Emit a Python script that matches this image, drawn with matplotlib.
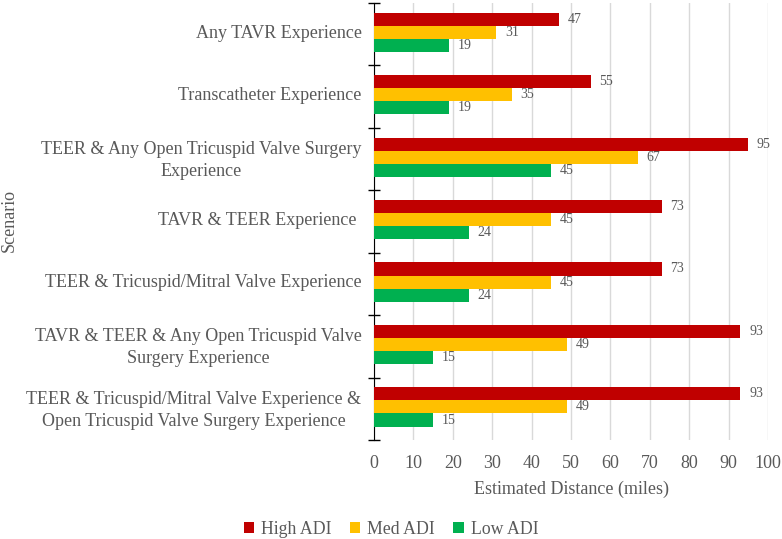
import matplotlib.pyplot as plt
import numpy as np

plt.rcParams['font.family'] = ['Liberation Serif', 'DejaVu Serif']

scenarios = [
    "Any TAVR Experience",
    "Transcatheter Experience",
    "TEER & Any Open Tricuspid Valve Surgery\nExperience",
    "TAVR & TEER Experience ",
    "TEER & Tricuspid/Mitral Valve Experience",
    "TAVR & TEER & Any Open Tricuspid Valve\nSurgery Experience",
    "TEER & Tricuspid/Mitral Valve Experience &\nOpen Tricuspid Valve Surgery Experience",
]
high_adi = [47, 55, 95, 73, 73, 93, 93]
med_adi = [31, 35, 67, 45, 45, 49, 49]
low_adi = [19, 19, 45, 24, 24, 15, 15]

series = [("High ADI", high_adi, "#C00000"),
          ("Med ADI", med_adi, "#FFC000"),
          ("Low ADI", low_adi, "#00B050")]

gray = "#595959"

fig = plt.figure(figsize=(7.82, 5.39), dpi=100)
ax = fig.add_axes([374 / 782, 1 - 440 / 539, (768 - 374) / 782, 437 / 539])

n = len(scenarios)
y = np.arange(n)
h = 0.21
for i, (name, vals, col) in enumerate(series):
    pos = y + (i - 1) * h - 0.03
    bars = ax.barh(pos, vals, height=h, color=col, label=name, zorder=3)
    for b, v in zip(bars, vals):
        ax.text(v + 2.2, b.get_y() + h / 2, str(v), va='center', ha='left',
                fontsize=10, color=gray)

ax.set_xlim(0, 100)
ax.set_ylim(n - 0.5, -0.5)
ax.set_xticks(np.arange(0, 101, 10))
ax.grid(axis='x', color='#D9D9D9', linewidth=1, zorder=0)
ax.set_yticks(y - 0.05)
ax.set_yticklabels(scenarios, ha='right', multialignment='center', linespacing=1.4)
ax.set_yticks(np.arange(-0.5, n, 1), minor=True)
ax.tick_params(axis='y', which='major', length=0, pad=9, labelsize=13, labelcolor=gray)
ax.tick_params(axis='y', which='minor', length=8, direction='inout', color='black', width=1)
ax.tick_params(axis='x', length=0, pad=11, labelsize=13, labelcolor=gray)

for s in ['top', 'right', 'bottom']:
    ax.spines[s].set_visible(False)
ax.spines['left'].set_color('black')

ax.set_xlabel("Estimated Distance (miles)", fontsize=13, color=gray, labelpad=6)
fig.text(9 / 782, 1 - 220 / 539, "Scenario", rotation=90, ha='center', va='center',
         fontsize=13, color=gray)

fig.legend(loc='center', bbox_to_anchor=(0.5, 1 - 529 / 539), ncol=3, frameon=False,
           fontsize=12.8, labelcolor=gray, handlelength=0.6, handleheight=0.6,
           handletextpad=0.4, columnspacing=1.0)

fig.savefig("out.png", dpi=100)
